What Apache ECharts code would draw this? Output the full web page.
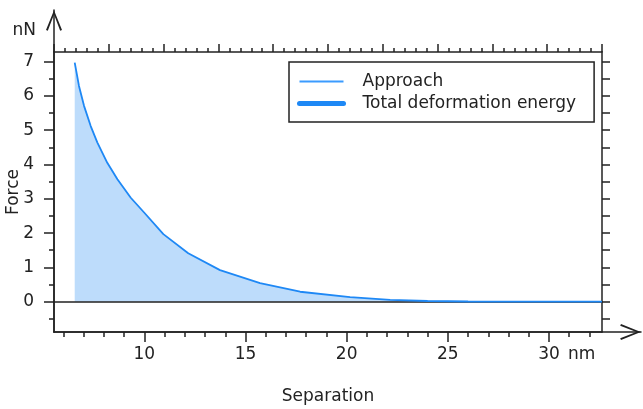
<!DOCTYPE html>
<html><head><meta charset="utf-8">
<script src="https://cdn.jsdelivr.net/npm/echarts@6/dist/echarts.min.js"></script>
<style>html,body{margin:0;padding:0;background:#fff}#c{width:643px;height:409px}</style>
</head><body><div id="c"></div>
<script>
// Data
const separation = [6.56, 6.77, 7.02, 7.35, 7.68, 8.17, 8.67, 9.33, 9.99, 10.94, 12.17, 13.74, 15.72, 17.7, 20.17, 22.15, 24.0, 26.0, 28.0, 32.62];
const force      = [6.97, 6.29, 5.71, 5.12, 4.64, 4.05, 3.57, 3.03, 2.60, 1.97, 1.41, 0.92, 0.54, 0.29, 0.13, 0.05, 0.02, 0.005, 0.0, 0.0];
const seriesNames = ['Approach', 'Total deformation energy'];
const xMajorTicks = [10, 15, 20, 25, 30];
const xMinorTicks = [6, 7, 8, 9, 11, 12, 13, 14, 16, 17, 18, 19, 21, 22, 23, 24, 26, 27, 28, 29, 31, 32];
const yMajorTicks = [0, 1, 2, 3, 4, 5, 6, 7];
const yMinorTicks = [-0.5, 0.5, 1.5, 2.5, 3.5, 4.5, 5.5, 6.5];
const yRightTicks = [-0.5, 0, 0.5, 1, 1.5, 2, 2.5, 3, 3.5, 4, 4.5, 5, 5.5, 6, 6.5, 7];
const xRange = [5.536, 32.62];
const yRange = [-0.884, 7.28];
const xUnit = 'nm', yUnit = 'nN', xName = 'Separation', yName = 'Force';

const INK = '#222';
const BLUE = '#1e88f5';
const FILL = '#bddcfb';
const FONT = 'DejaVu Sans';
const FS = 17;
const pts = separation.map((x, i) => [x, force[i]]);
const arrow = 'path://M8,0 L16,19.8 L14.2,20.6 L8,4.4 L1.8,20.6 L0,19.8 Z';
const lineS = { color: INK, width: 1.5 };
const off = { show: false };

const chart = echarts.init(document.getElementById('c'), null, { renderer: 'canvas' });
chart.setOption({
  animation: false,
  backgroundColor: '#fff',
  textStyle: { fontFamily: FONT, color: INK },
  grid: [
    { left: 54, right: 41, top: 52, bottom: 77, containLabel: false, outerBoundsMode: 'none' },
    { left: 54, right: 2, top: 10, bottom: 77, containLabel: false, outerBoundsMode: 'none' }
  ],
  legend: {
    left: 289, top: 62, orient: 'vertical',
    padding: [11, 18, 10, 8], itemGap: 5, itemWidth: 44, itemHeight: 14,
    borderColor: INK, borderWidth: 1.5, backgroundColor: '#fff',
    textStyle: { fontFamily: FONT, fontSize: FS, color: INK, padding: [0, 0, 0, 14] },
    data: [
      { name: seriesNames[0], itemStyle: { opacity: 0 }, lineStyle: { width: 1.8, color: '#3b9bff', opacity: 1 } },
      { name: seriesNames[1], itemStyle: { opacity: 0 }, lineStyle: { width: 5, color: BLUE, opacity: 1, cap: 'round' } }
    ]
  },
  xAxis: [
    { // bottom frame with major ticks + labels
      gridIndex: 0, type: 'value', position: 'bottom', min: xRange[0], max: xRange[1],
      axisLine: { show: true, onZero: false, lineStyle: lineS },
      axisTick: { show: true, length: 10, customValues: xMajorTicks, lineStyle: lineS },
      axisLabel: { show: true, customValues: xMajorTicks, margin: 14, fontSize: FS, color: INK, fontFamily: FONT },
      splitLine: off,
      name: xName, nameLocation: 'middle', nameGap: 56,
      nameTextStyle: { fontSize: FS, color: INK, fontFamily: FONT }
    },
    { // bottom minor ticks + unit
      gridIndex: 0, type: 'value', position: 'bottom', min: xRange[0], max: xRange[1],
      axisLine: { show: false, onZero: false },
      axisTick: { show: true, length: 5, customValues: xMinorTicks, lineStyle: lineS },
      axisLabel: off, splitLine: off,
      name: xUnit, nameLocation: 'end', nameGap: -34,
      nameTextStyle: { fontSize: FS, color: INK, fontFamily: FONT, verticalAlign: 'top', padding: [14, 0, 0, 0] }
    },
    { // top frame
      gridIndex: 0, type: 'value', position: 'top', min: 0, max: 10, interval: 1,
      axisLine: { show: true, onZero: false, lineStyle: lineS },
      axisTick: { show: true, length: 8, lineStyle: lineS },
      minorTick: { show: true, splitNumber: 5, length: 4, lineStyle: lineS },
      axisLabel: off, splitLine: off, minorSplitLine: off
    },
    { // zero line
      gridIndex: 0, type: 'value', position: 'bottom', min: xRange[0], max: xRange[1], z: 2,
      axisLine: { show: true, onZero: true, onZeroAxisIndex: 0, lineStyle: { color: INK, width: 1.5 } },
      axisTick: off, axisLabel: off, splitLine: off
    },
    { // arrow x
      gridIndex: 1, type: 'value', min: 0, max: 1,
      axisLine: { show: true, onZero: false, symbol: ['none', arrow], symbolSize: [16, 21], symbolOffset: [0, -10.5], lineStyle: lineS },
      axisTick: off, axisLabel: off, splitLine: off
    }
  ],
  yAxis: [
    { // left frame major
      gridIndex: 0, type: 'value', position: 'left', min: yRange[0], max: yRange[1],
      axisLine: { show: true, onZero: false, lineStyle: lineS },
      axisTick: { show: true, length: 10, customValues: yMajorTicks, lineStyle: lineS },
      axisLabel: { show: true, customValues: yMajorTicks, margin: 20, fontSize: FS, color: INK, fontFamily: FONT },
      splitLine: off,
      name: yName, nameLocation: 'middle', nameGap: 32, nameMoveOverlap: false,
      nameTextStyle: { fontSize: FS, color: INK, fontFamily: FONT }
    },
    { // left minor + unit
      gridIndex: 0, type: 'value', position: 'left', min: yRange[0], max: yRange[1],
      axisLine: { show: false, onZero: false },
      axisTick: { show: true, length: 5, customValues: yMinorTicks, lineStyle: lineS },
      axisLabel: off, splitLine: off,
      name: yUnit, nameLocation: 'end', nameGap: 13,
      nameTextStyle: { fontSize: FS, color: INK, fontFamily: FONT, align: 'right', padding: [0, 18, 0, 0] }
    },
    { // right frame
      gridIndex: 0, type: 'value', position: 'right', min: yRange[0], max: yRange[1],
      axisLine: { show: true, onZero: false, lineStyle: lineS },
      axisTick: { show: true, length: 8, customValues: yRightTicks, lineStyle: lineS },
      axisLabel: off, splitLine: off
    },
    { // arrow y
      gridIndex: 1, type: 'value', min: 0, max: 1,
      axisLine: { show: true, onZero: false, symbol: ['none', arrow], symbolSize: [16, 21], symbolOffset: [0, -10.5], lineStyle: lineS },
      axisTick: off, axisLabel: off, splitLine: off
    }
  ],
  series: [
    {
      name: seriesNames[1], type: 'line', xAxisIndex: 0, yAxisIndex: 0, z: 1,
      data: pts, symbol: 'none', smooth: false,
      lineStyle: { width: 0, color: BLUE },
      itemStyle: { color: BLUE },
      areaStyle: { color: FILL, opacity: 1 }
    },
    {
      name: seriesNames[0], type: 'line', xAxisIndex: 0, yAxisIndex: 0, z: 3,
      data: pts, symbol: 'none', smooth: false,
      lineStyle: { width: 1.8, color: BLUE },
      itemStyle: { color: BLUE }
    }
  ]
});
</script></body></html>
